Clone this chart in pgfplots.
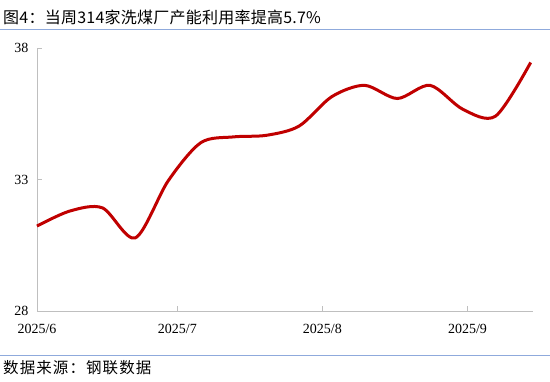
\documentclass[border=0pt]{standalone}
\usepackage{fontspec}
\setmainfont{Liberation Serif}
\newfontfamily\cjk{Noto Sans CJK SC}
\newfontfamily\cjktitle[LetterSpace=1.5]{Noto Sans CJK SC}
\newfontfamily\cjksrc[LetterSpace=7]{Noto Sans CJK SC}
\usepackage{pgfplots}
\pgfplotsset{compat=1.18}
\definecolor{linered}{RGB}{192,0,0}
\definecolor{sepblue}{RGB}{143,170,220}
\definecolor{axgray}{RGB}{191,191,191}
\begin{document}
\begin{tikzpicture}[x=1bp,y=1bp]
\useasboundingbox (0,0) rectangle (550,381);
\draw[sepblue, line width=1bp] (0,352) -- (550,352);
\draw[sepblue, line width=1bp] (0,26) -- (550,26);
\node[anchor=west, inner sep=0] at (3,364) {\cjktitle\fontsize{16bp}{19bp}\selectfont 图4：当周314家洗煤厂产能利用率提高5.7\%};
\node[anchor=west, inner sep=0] at (3,13) {\cjksrc\fontsize{15.5bp}{18bp}\selectfont 数据来源：钢联数据};
\begin{axis}[
 at={(37bp,70bp)}, anchor=south west, scale only axis, width=496bp, height=263bp,
 xmin=0, xmax=106, ymin=28, ymax=38,
 axis x line*=bottom, axis y line*=left,
 axis line style={axgray, line width=0.8bp},
 xtick={0,30,61,92}, xticklabels={2025/6,2025/7,2025/8,2025/9},
 ytick={28,33,38},
 tick style={axgray, line width=0.8bp},
 tick align=inside, major tick length=5bp,
 tick label style={font=\fontsize{14bp}{16bp}\selectfont, black},
 /pgf/number format/assume math mode=true,
 xticklabel style={yshift=-10bp},
 yticklabel style={xshift=-5bp},
 clip=false,
]
\addplot[linered, line width=3bp, smooth, tension=0.5] coordinates {
(0,31.23) (7,31.80) (14,31.92) (21,30.78) (28,32.94) (35,34.40) (42,34.62) (49,34.68)
(56,35.03) (63,36.15) (70,36.58) (77,36.08) (84,36.58) (91,35.67) (98,35.41) (105.5,37.45)
};
\end{axis}
\end{tikzpicture}
\end{document}
